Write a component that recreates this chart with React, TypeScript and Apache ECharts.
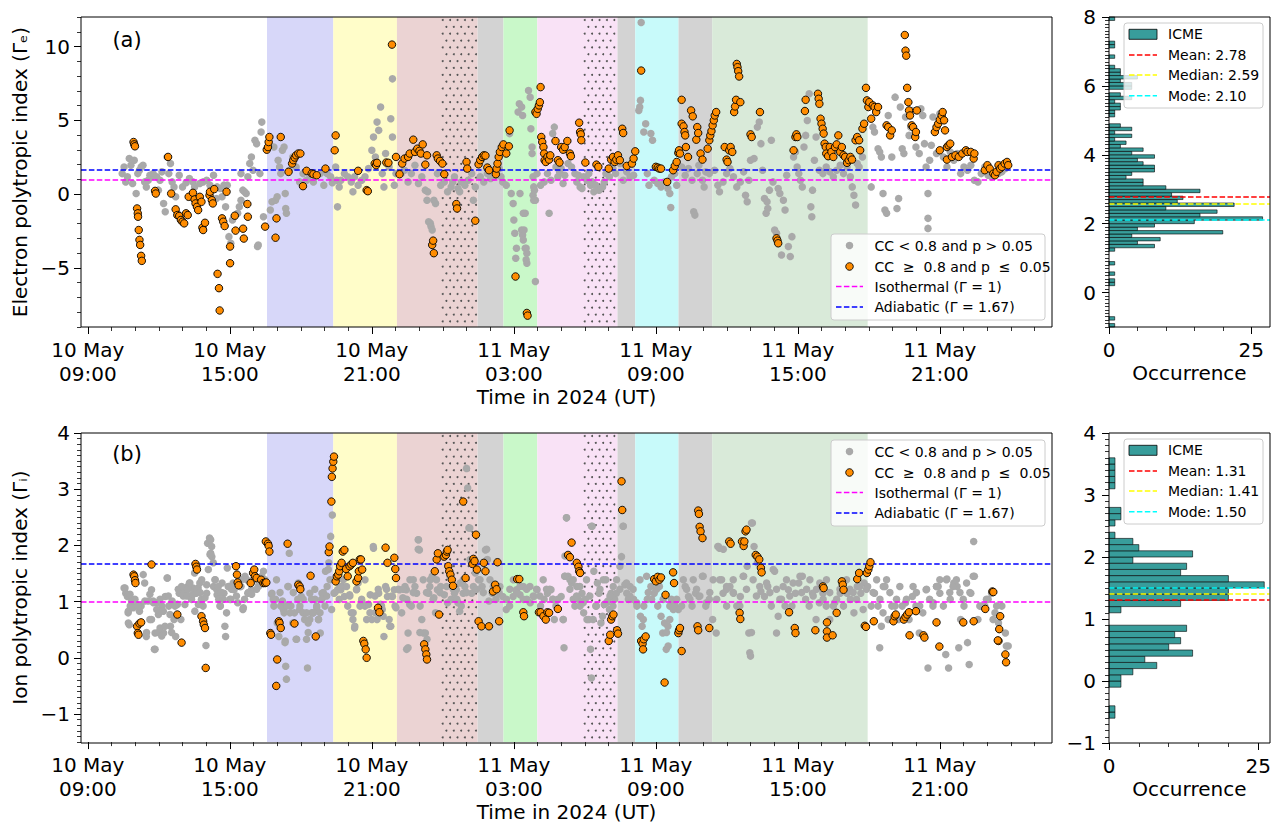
import React, { useEffect, useRef } from "react";
import * as echarts from "echarts";

// ---------------- DATA ----------------
// Time is given in hours after 2024-05-10 09:00 UT
const X_MIN_H = -0.29;
const X_MAX_H = 40.74;
const majorTickHours = [0, 6, 12, 18, 24, 30, 36];

// Shaded intervals (hours)
const regionStarts = [7.57, 10.37, 13.06, 16.47, 17.56, 18.99, 22.38, 23.13, 24.96, 26.38];
const regionEnds = [10.37, 13.06, 16.47, 17.56, 18.99, 22.38, 23.13, 24.96, 26.38, 32.95];
// Dotted-hatch intervals (hours)
const hatchStarts = [14.96, 20.96];
const hatchEnds = [16.47, 22.38];

const isothermal = 1;
const adiabatic = 1.67;

// Panel (a): electron polytropic index
const aGray: number[][] = [
[1.45,1.39],[1.53,1.84],[1.6,0.83],[1.67,1.17],[1.75,2.41],[1.82,1.96],[1.89,0.72],[1.96,2.3],[2.04,0.04],[2.11,1.39],[2.18,1.62],[2.25,1.84],[2.33,1.96],[2.4,0.83],[2.47,0.49],[2.55,0.94],[2.62,1.28],[2.69,1.17],[2.76,1.39],[2.91,1.17],[2.98,0.27],[3.05,0.94],[3.13,1.51],[3.2,-0.63],[3.27,-1.19],[3.35,2.52],[3.42,1.39],[3.49,2.07],[3.56,0.83],[3.64,0.49],[3.71,-0.18],[3.78,-1.3],[3.86,1.28],[4.0,0.49],[4.15,0.77],[4.29,1.06],[4.36,-0.18],[4.44,0.83],[4.51,0.49],[4.58,-0.41],[4.73,0.72],[4.87,0.83],[5.02,0.94],[5.16,0.61],[5.31,1.28],[5.43,-0.29],[5.46,0.49],[5.6,0.38],[5.67,-0.18],[5.75,0.61],[5.82,-0.86],[5.89,0.61],[5.96,-2.88],[6.04,-3.33],[6.11,-1.75],[6.18,-1.53],[6.33,-1.3],[6.4,-0.86],[6.47,1.39],[6.47,-0.41],[6.55,0.27],[6.62,0.16],[6.69,0.04],[6.76,1.17],[6.84,2.07],[6.91,2.52],[6.98,1.62],[7.06,3.65],[7.13,3.42],[7.17,-3.55],[7.2,-3.44],[7.27,1.39],[7.32,4.21],[7.35,4.88],[7.42,-1.53],
[7.71,-1.08],[7.78,-0.52],[7.86,3.19],[7.93,-0.41],[8.0,-0.18],[8.04,2.3],[8.1,1.84],[8.15,1.39],[8.22,2.97],[8.29,3.19],[8.34,0.04],[8.36,-0.97],[8.39,-1.3],[8.51,1.62],[8.66,2.52],[8.8,1.84],[8.95,0.83],[9.09,1.39],[9.24,0.94],[9.38,1.28],[9.53,0.83],[9.67,1.28],[9.82,1.39],[9.97,0.61],[10.11,1.39],[10.26,1.17],[10.33,0.77],[10.47,1.84],[10.52,0.94],[10.55,-0.86],[10.62,0.49],[10.69,0.94],[10.84,1.39],[10.98,1.17],[11.13,0.83],[11.2,0.16],[11.27,1.17],[11.42,0.61],[11.57,0.94],[11.71,1.17],[11.86,1.73],[12.0,2.97],[12.07,3.87],[12.15,2.52],[12.22,4.88],[12.29,4.32],[12.37,5.9],[12.44,1.39],[12.51,0.49],[12.58,2.75],[12.73,1.84],[12.8,5.11],[12.87,7.81],[12.87,3.87],[12.95,0.61],[13.02,1.39],
[13.24,1.39],[13.38,1.62],[13.53,0.83],[13.67,1.39],[13.82,1.96],[13.97,0.72],[14.11,1.17],[14.26,0.27],[14.33,-0.41],[14.36,0.16],[14.4,-1.87],[14.47,-1.98],[14.5,-2.2],[14.55,-2.43],[14.62,-0.41],[14.69,-0.63],[14.77,1.39],[14.91,0.61],[15.06,0.83],[15.2,0.16],[15.35,0.49],[15.42,0.83],[15.49,1.17],[15.64,0.38],[15.71,0.16],[15.78,0.83],[15.93,0.61],[16.07,0.94],[16.22,1.39],[16.29,-0.41],[16.37,0.49],[16.58,1.17],[16.73,0.83],[16.88,1.39],[17.02,1.06],[17.17,1.17],[17.24,1.51],[17.38,1.73],[17.46,1.17],[17.53,0.83],[17.68,0.61],[17.82,4.1],[17.89,0.04],[17.97,-0.63],[18.0,-1.75],[18.04,-2.65],[18.08,-4.34],[18.11,-3.67],[18.18,5.56],[18.23,6.12],[18.26,0.04],[18.33,-2.43],[18.37,-2.77],[18.4,-3.1],[18.48,-1.3],[18.52,-3.67],[18.55,-4.68],[18.62,7.02],[18.69,6.57],[18.72,4.43],[18.77,3.19],[18.81,1.17],[18.84,0.49],[18.91,-0.41],[18.98,1.39],
[18.33,5.9],[18.37,5.33],[18.4,-1.3],[18.43,-2.43],[18.48,-3.67],[18.52,-4.45],[18.55,-4.0],[18.77,2.75],[18.81,-0.07],[18.84,-0.41],[18.87,0.27],[18.91,-5.92],[19.13,0.61],[19.28,0.83],[19.42,1.39],[19.49,-1.3],[19.57,0.94],[19.64,4.1],[19.71,4.54],[19.78,1.84],[19.86,1.17],[19.93,1.51],[20.0,1.73],[20.08,0.72],[20.15,1.28],[20.29,2.07],[20.44,1.84],[20.58,1.39],[20.66,0.83],[20.73,1.28],[20.8,0.49],[20.88,0.38],[20.95,1.17],[21.09,0.94],[21.17,1.39],[21.24,0.61],[21.31,0.83],[21.38,0.16],[21.46,0.61],[21.6,0.27],[21.75,0.49],[21.82,0.83],[21.89,1.39],[22.04,1.17],[22.19,1.73],[22.3,1.39],[22.48,2.07],[22.62,0.94],[22.77,1.51],[22.91,1.17],[23.06,1.28],[23.28,5.67],[23.32,5.9],[23.35,6.35],[23.38,11.63],[23.49,4.21],[23.57,4.77],[23.64,1.39],[23.71,0.61],[23.79,4.1],[23.86,3.65],[23.93,0.94],[24.08,0.72],[24.22,0.49],[24.37,0.83],[24.51,0.38],[24.59,0.04],[24.63,-0.9],[24.66,1.17],[24.8,1.39],[24.88,0.61],
[25.09,1.84],[25.24,1.28],[25.38,1.73],[25.53,0.94],[25.6,-1.19],[25.65,-1.42],[25.75,1.39],[25.82,1.96],[25.97,0.94],[26.04,0.49],[26.11,1.51],[26.26,1.39],[26.48,1.62],[26.62,0.61],[26.69,0.16],[26.84,0.83],[26.99,1.39],[27.13,1.73],[27.28,1.17],[27.42,0.49],[27.57,0.83],[27.71,1.51],[27.79,-0.07],[27.86,-0.52],[27.93,0.94],[28.0,2.3],[28.15,2.41],[28.29,4.54],[28.37,4.88],[28.44,3.42],[28.51,1.62],[28.59,-0.29],[28.66,-1.3],[28.7,-0.52],[28.73,-0.97],[28.8,0.27],[28.88,3.65],[28.95,0.83],[29.02,-2.43],[29.1,-2.65],[29.17,0.38],[29.24,0.04],[29.31,-4.12],[29.39,-0.41],[29.46,-1.08],[29.53,1.28],[29.6,-3.55],[29.68,-4.23],[29.75,-2.88],[29.82,2.52],[29.9,2.86],[29.97,1.84],[30.04,1.39],[30.11,0.94],[30.19,0.49],[30.26,3.19],[30.33,3.98],[30.4,4.99],[30.48,6.8],[30.55,-0.86],[30.59,-1.53],[30.62,0.27],[30.7,2.3],[30.77,3.87],[30.91,1.62],[31.06,1.39],[31.2,1.84],[31.35,1.51],[31.5,1.17],[31.64,1.62],[31.79,1.96],[31.93,1.39],[32.08,1.84],[32.22,1.17],[32.3,0.49],[32.37,-0.07],[32.44,-0.74],[32.51,2.07],[32.59,1.84],[32.66,2.97],[32.73,2.52],
[33.1,0.49],[33.17,4.54],[33.24,4.21],[33.39,3.08],[33.46,2.86],[33.53,2.52],[33.6,0.04],[33.68,-1.08],[33.75,-1.3],[33.82,5.33],[33.97,2.52],[34.11,6.57],[34.19,-0.97],[34.26,-0.29],[34.33,5.9],[34.41,3.08],[34.48,2.75],[34.55,5.22],[34.7,3.98],[34.77,4.54],[34.84,5.67],[34.99,3.19],[35.13,2.75],[35.2,5.78],[35.28,5.33],[35.35,3.42],[35.42,1.84],[35.5,0.04],[35.5,-1.64],[35.5,-2.32],[35.57,2.3],[35.64,3.31],[35.71,5.22],[35.86,2.75],[36.0,5.44],[36.15,2.52],[36.3,1.84],[36.44,2.86],[36.59,2.3],[36.73,2.75],[36.88,1.39],[37.02,1.84],[37.17,1.62],[37.31,1.96],[37.46,0.94],[37.61,0.83],[37.75,1.39],[37.9,1.84],[38.04,1.28],[38.19,1.17],[38.33,1.39],[38.48,1.39],[38.62,1.51],[38.77,1.73]
];

const aOrange: number[][] = [
[1.93,3.53],[1.96,3.37],[1.99,3.24],[2.08,-0.97],[2.11,-1.3],[2.12,-1.53],[2.15,-2.43],[2.18,-3.1],[2.21,-3.44],[2.25,-4.18],[2.28,-4.52],[2.84,0.22],[2.87,0.04],[3.39,2.52],[3.52,0.04],[3.71,-1.03],[3.78,-1.42],[3.86,-1.48],[3.93,-1.75],[4.0,-1.87],[4.07,-1.98],[4.15,-1.3],[4.22,-1.42],[4.26,-0.18],[4.44,0.09],[4.51,-0.36],[4.55,-0.63],[4.61,-0.86],[4.66,-1.08],[4.73,-0.18],[4.8,-0.52],[4.84,-2.27],[4.87,-2.43],[4.95,-1.94],[5.14,-0.07],[5.16,0.16],[5.24,-0.41],[5.28,-0.63],[5.34,0.34],[5.48,-5.4],[5.54,-6.37],[5.57,-7.88],[5.67,-1.64],[5.72,-1.87],[5.78,-2.16],[5.86,0.16],[6.01,-3.55],[6.01,-4.68],[6.21,-1.46],[6.24,-2.47],[6.56,-2.34],[6.59,-3.01],[6.74,-0.67],[6.76,-1.53],[7.49,-2.2],[7.56,3.01],[7.61,3.19],[7.64,3.53],[7.67,3.87],[7.93,-2.95],[7.97,-1.64],[8.15,3.87],[8.48,1.51],[8.63,2.07],[8.68,2.3],[8.74,2.48],[8.8,2.63],[8.89,2.75],[8.98,2.75],[9.09,0.54],[9.24,1.58],[9.46,1.4],[9.53,1.35],[9.67,1.28],[10.04,1.73],[10.43,2.97],[10.47,3.98],[11.42,1.58],[11.78,0.27],[11.83,0.2],[12.12,2.07],[12.18,1.96],[12.22,2.12],
[12.61,2.14],[12.7,2.12],[12.85,10.13],[13.02,2.52],[13.17,1.35],[13.28,2.07],[13.38,2.41],[13.53,2.52],[13.6,2.75],[13.75,3.69],[13.82,2.86],[13.92,3.08],[14.01,2.93],[14.07,2.75],[14.15,3.37],[14.26,2.0],[14.33,2.63],[14.55,-3.44],[14.59,-3.15],[14.62,-4.0],[14.74,2.63],[14.79,2.41],[14.88,2.25],[14.98,2.07],[15.06,1.35],[15.57,-0.67],[15.6,-0.97],[16.0,2.18],[16.03,1.73],[16.37,-1.8],[16.51,2.02],[16.58,2.3],[16.66,2.52],[16.73,2.63],[16.8,2.61],[16.88,1.8],[16.95,1.62],[17.24,1.35],[17.27,1.73],[17.31,2.07],[17.36,2.52],[17.41,2.86],[17.49,3.19],[17.56,3.37],[17.68,2.75],[17.79,3.24],[17.82,4.32],[18.07,-5.58],
[18.55,-8.05],[18.58,-8.23],[18.91,5.56],[18.96,5.44],[19.01,5.78],[19.06,6.01],[19.1,6.23],[19.13,7.25],[19.16,3.87],[19.2,3.53],[19.25,3.19],[19.28,2.75],[19.3,2.3],[19.35,2.18],[19.42,2.52],[19.49,2.34],[19.54,2.63],[19.76,3.6],[19.86,2.3],[19.93,2.14],[20.0,3.19],[20.08,3.01],[20.15,3.19],[20.26,3.6],[20.37,2.75],[20.41,2.57],[20.76,4.84],[20.8,4.21],[20.83,4.05],[20.85,3.65],[21.02,2.14],[21.49,2.0],[21.57,1.85],[22.01,1.73],[22.11,2.34],[22.19,2.52],[22.26,2.18],[22.33,2.34],[22.4,2.63],[22.48,2.3],[22.58,4.43],[22.62,4.14],[22.77,1.91],[22.99,2.07],[23.06,2.41],[23.13,2.9],[23.38,8.37],[24.0,1.85],[24.08,1.8],[24.15,1.73],[24.22,1.73],[24.48,0.83],[24.73,1.62],[24.8,1.91],[24.88,2.18],[24.95,2.79],[24.98,2.97],[25.02,2.75],[25.09,6.39],[25.09,4.77],[25.17,4.59],[25.21,4.21],[25.24,3.98],[25.27,3.19],[25.36,2.52],[25.49,5.67],[25.56,5.27],[25.71,3.69],[25.75,4.54],[25.79,4.14],[25.89,2.75],[25.97,2.34],[26.19,3.08],[26.26,3.65],[26.3,3.98],[26.35,4.27],[26.4,4.66],[26.45,5.0],[26.49,5.33],[26.55,5.56],
[26.91,3.19],[26.99,2.34],[27.03,2.18],[27.1,2.97],[27.16,3.19],[27.23,2.86],[27.31,5.56],[27.35,5.94],[27.39,6.39],[27.42,8.82],[27.45,8.6],[27.48,8.33],[27.52,7.97],[27.57,6.23],[28.0,4.05],[28.05,3.87],[28.4,5.56],[29.1,-2.99],[29.14,-3.15],[29.17,-3.33],[29.82,2.97],[29.9,3.87],[29.94,4.05],[29.98,3.87],[30.3,5.63],[30.33,6.39],[30.85,6.8],[30.88,6.46],[30.91,6.12],[30.96,5.11],[31.0,4.77],[31.05,4.43],[31.09,4.1],[31.13,3.42],[31.18,3.19],[31.2,2.75],[31.28,2.57],[31.35,3.19],[31.42,2.86],[31.5,2.52],[31.57,3.19],[31.64,3.37],[31.71,3.98],[31.79,2.86],[31.86,3.19],[31.93,2.63],[32.0,2.52],[32.08,2.12],[32.15,2.3],[32.22,2.52],[32.29,2.34],[32.44,3.65],[32.51,3.87],[32.59,3.65],[32.63,2.97],[32.73,4.43],[32.8,4.77],[32.88,7.2],[32.92,6.35],[32.98,5.9],[33.02,6.23],[33.1,5.11],[33.17,6.01],[33.24,5.9],[33.31,5.56],[33.39,5.9],
[33.75,4.66],[33.82,4.54],[33.9,3.98],[33.97,4.32],[34.52,10.78],[34.55,9.72],[34.58,9.38],[34.62,7.2],[34.67,6.23],[34.7,5.67],[34.74,5.33],[34.81,4.66],[34.87,4.54],[34.96,3.87],[34.99,4.21],[35.03,5.67],[35.79,4.21],[35.86,4.54],[35.93,4.77],[36.0,5.04],[36.08,5.33],[36.12,5.56],[36.18,5.0],[36.22,4.32],[36.0,2.97],[36.3,3.19],[36.37,3.31],[36.44,3.42],[36.3,2.34],[36.51,2.52],[36.66,2.63],[36.8,2.52],[36.95,2.75],[37.1,2.97],[37.17,2.86],[37.31,2.86],[37.43,2.41],[37.46,2.75],[37.9,1.62],[38.01,1.96],[38.11,1.73],[38.26,1.39],[38.33,1.28],[38.4,1.51],[38.48,1.96],[38.55,1.73],[38.62,1.85],[38.74,2.07],[38.84,2.18],[38.89,1.96]
];

// Panel (b): ion polytropic index
const bGray: number[][] = [
[1.53,1.24],[1.6,1.15],[1.67,1.09],[1.7,0.8],[1.75,0.59],[1.79,0.92],[1.85,1.01],[1.89,1.04],[2.04,0.95],[2.18,0.83],[2.25,0.92],[2.4,1.33],[2.47,0.38],[2.55,1.01],[2.62,0.68],[2.69,1.21],[2.76,1.01],[2.81,0.15],[2.84,0.44],[2.91,0.98],[2.98,0.77],[3.05,0.53],[3.13,0.92],[3.2,0.44],[3.27,1.09],[3.35,1.42],[3.42,0.92],[3.49,0.56],[3.56,1.01],[3.64,0.68],[3.71,0.38],[3.78,0.95],[3.86,1.15],[3.93,0.68],[4.0,1.24],[4.07,1.12],[4.15,1.15],[4.22,1.27],[4.29,1.33],[4.36,1.09],[4.44,1.24],[4.51,1.51],[4.58,1.15],[4.66,1.24],[4.73,1.33],[4.8,1.04],[4.87,0.92],[4.99,0.22],[5.02,1.15],[5.06,2.04],[5.14,2.13],[5.19,1.86],[5.24,1.8],[5.31,1.27],[5.38,1.39],[5.46,1.12],[5.53,1.04],[5.6,0.92],[5.67,1.33],[5.75,1.15],[5.82,0.38],[5.89,1.6],[5.96,1.27],[6.04,1.04],[6.18,1.21],[6.33,0.98],[6.47,1.27],[6.55,0.86],[6.62,1.04],[6.76,1.15],[6.91,1.21],[7.06,1.39],[7.2,1.27],[7.27,1.3],[7.35,1.45],[7.42,1.54],
[7.78,1.15],[7.86,0.92],[7.93,1.04],[8.0,0.62],[8.07,0.38],[8.15,0.92],[8.22,1.01],[8.29,0.8],[8.34,0.3],[8.36,-0.15],[8.39,-0.38],[8.45,1.27],[8.51,1.86],[8.58,0.92],[8.66,0.62],[8.73,0.8],[8.8,0.33],[8.87,1.04],[8.95,0.86],[9.02,1.09],[9.09,0.8],[9.16,0.68],[9.24,0.33],[9.28,-0.18],[9.31,0.62],[9.38,1.15],[9.46,0.8],[9.53,0.8],[9.6,1.04],[9.67,0.89],[9.75,0.68],[9.82,0.44],[9.89,1.15],[9.97,1.09],[10.04,1.54],[10.11,1.27],[10.18,1.69],[10.26,2.16],[10.33,2.54],[10.4,1.15],[10.55,1.21],[10.62,1.04],[10.69,1.21],[10.77,1.27],[10.84,1.09],[10.98,0.92],[11.06,1.12],[11.13,0.8],[11.2,0.68],[11.27,0.53],[11.35,1.21],[11.42,1.33],[11.57,1.01],[11.71,0.92],[11.86,0.95],[11.93,1.12],[12.0,0.68],[12.07,1.95],[12.15,0.8],[12.22,0.68],[12.29,1.15],[12.37,0.95],[12.44,0.86],[12.51,0.38],[12.58,1.27],[12.66,1.09],[12.73,0.68],[12.8,0.56],[12.87,1.09],[12.95,1.21],[13.02,0.89],
[13.17,1.21],[13.31,1.07],[13.46,1.21],[13.53,0.18],[13.53,0.44],[13.6,0.95],[13.67,0.92],[13.75,1.39],[13.82,1.27],[13.89,1.15],[13.97,2.1],[14.01,1.92],[14.04,0.92],[14.11,0.68],[14.18,0.44],[14.26,0.44],[14.33,0.33],[14.4,1.15],[14.47,1.39],[14.55,1.45],[14.62,1.07],[14.69,0.8],[14.77,1.21],[14.91,1.27],[15.06,1.12],[15.2,0.98],[15.35,1.04],[15.49,1.15],[15.57,1.21],[15.64,0.98],[15.71,0.83],[15.78,0.92],[15.86,1.15],[15.93,1.27],[16.0,3.37],[16.05,3.02],[16.1,2.31],[16.15,1.75],[16.22,1.15],[16.37,1.51],[16.51,1.39],[16.66,1.27],[16.8,1.92],[16.88,1.75],[16.95,1.01],[17.09,1.15],[17.24,1.04],[17.38,1.15],[17.53,1.09],[17.68,0.86],[17.82,0.92],[17.97,1.09],[18.11,1.21],[18.26,1.12],[18.4,1.27],[18.55,1.04],[18.69,0.98],[18.84,1.09],[18.98,1.21],
[19.13,0.92],[19.28,1.04],[19.42,1.15],[19.49,1.21],[19.57,1.21],[19.64,1.04],[19.71,0.68],[19.78,0.92],[19.86,1.04],[20.0,1.09],[20.08,0.68],[20.12,0.18],[20.15,1.45],[20.22,2.49],[20.29,1.45],[20.37,1.39],[20.44,1.33],[20.51,1.04],[20.58,0.92],[20.66,1.27],[20.73,1.04],[20.8,0.92],[20.88,1.15],[20.95,0.8],[21.02,1.04],[21.09,0.68],[21.17,0.68],[21.24,0.15],[21.28,-0.36],[21.31,2.34],[21.38,1.54],[21.46,0.92],[21.53,1.33],[21.6,1.15],[21.68,0.62],[21.75,0.74],[21.82,0.95],[21.89,1.39],[21.97,1.01],[22.04,0.86],[22.11,1.15],[22.19,0.92],[22.26,1.04],[22.33,1.15],[22.48,1.63],[22.55,1.8],[22.62,2.34],[22.69,1.3],[22.77,1.15],[22.84,1.04],[22.91,1.27],[23.06,1.04],[23.2,0.92],[23.35,0.74],[23.42,0.56],[23.49,0.92],[23.64,1.04],[23.79,1.27],[23.93,1.15],[24.08,0.92],[24.15,1.27],[24.22,0.74],[24.29,0.44],[24.37,0.62],[24.44,0.15],[24.51,0.56],[24.59,0.92],[24.66,1.04],[24.8,0.95],[24.95,0.86],
[25.09,0.92],[25.24,1.27],[25.38,1.09],[25.53,0.92],[25.68,1.15],[25.82,1.09],[25.97,1.45],[26.11,0.92],[26.26,1.04],[26.4,0.68],[26.55,0.44],[26.62,1.98],[26.69,1.95],[26.84,1.15],[26.99,0.92],[27.13,1.27],[27.28,1.15],[27.42,0.92],[27.57,1.09],[27.71,1.45],[27.86,1.63],[27.93,0.44],[27.97,0.09],[28.0,0.03],[28.08,2.4],[28.15,1.98],[28.29,1.69],[28.44,1.18],[28.59,1.09],[28.73,1.27],[28.88,0.92],[29.02,1.54],[29.1,0.44],[29.17,0.74],[29.31,1.04],[29.46,0.92],[29.6,1.21],[29.75,0.92],[29.9,1.15],[30.04,1.33],[30.19,1.45],[30.33,1.04],[30.48,0.92],[30.62,1.15],[30.77,0.68],[30.91,0.98],[31.06,1.15],[31.2,0.92],[31.35,0.68],[31.5,0.92],[31.64,1.04],[31.79,1.15],[31.93,0.92],[32.08,1.15],[32.22,1.04],[32.37,0.8],[32.51,1.27],[32.66,1.15],[32.8,1.33],[32.95,1.27],
[33.1,0.92],[33.24,1.15],[33.39,0.92],[33.46,0.18],[33.53,0.56],[33.6,0.8],[33.68,1.27],[33.82,0.68],[33.97,0.92],[34.11,0.92],[34.26,0.68],[34.41,0.92],[34.55,0.98],[34.7,0.68],[34.84,1.09],[34.99,0.92],[35.13,0.44],[35.28,0.8],[35.42,1.21],[35.5,-0.18],[35.57,1.04],[35.71,0.92],[35.86,1.27],[35.93,1.27],[36.0,1.15],[36.15,0.92],[36.25,0.06],[36.3,1.4],[36.37,-0.18],[36.44,1.04],[36.59,1.33],[36.73,1.27],[36.8,0.18],[36.88,0.68],[37.02,0.92],[37.17,0.27],[37.24,-0.12],[37.31,1.15],[37.43,2.07],[37.46,1.45],[37.61,0.68],[37.75,0.92],[37.9,0.92],[38.04,1.04],[38.19,1.15],[38.33,0.8],[38.48,0.62],[38.62,0.92],[38.77,0.44],[38.89,0.21]
];

// Panel (b): more of the dense low-correlation cloud
const bGrayDense: number[][] = [
[1.57,1.24],[1.78,1.13],[1.71,0.83],[1.71,0.62],[1.92,0.89],[1.99,1.04],[2.13,0.92],[2.34,1.48],[2.41,1.01],[2.48,0.45],[2.62,1.13],[2.69,0.68],[2.77,0.98],[2.84,0.15],[2.91,0.86],[2.98,0.45],[3.05,1.04],[3.12,0.39],[3.19,0.83],[3.26,0.56],[3.36,1.42],[3.4,1.1],[3.47,0.77],[3.54,0.45],[3.68,0.92],[3.82,1.22],[3.96,1.27],[4.03,1.1],[4.1,0.95],[4.17,1.1],[4.24,1.22],[4.31,1.33],[4.38,1.04],[4.45,1.13],[4.52,0.83],[4.6,1.22],[4.67,0.95],[4.74,1.16],[4.81,1.39],[4.95,1.07],[5.02,1.3],[5.09,1.57],[5.16,1.84],[5.19,2.1],[5.23,1.98],[5.3,1.69],[5.37,1.39],[5.44,1.22],[5.51,1.27],[5.58,0.92],[5.65,1.16],[5.72,1.04],[5.79,0.56],[5.86,0.8],[5.93,1.27],[6.0,1.04],[6.07,1.22],[6.14,1.33],[6.28,1.1],[6.43,1.27],[6.5,1.39],[6.57,0.89],[6.64,1.45],[6.71,1.39],[6.78,1.16],[6.92,1.13],[6.99,1.39],[7.06,1.45],[7.13,1.22],[7.27,1.39],[7.48,1.39],
[7.76,1.13],[7.83,1.04],[7.97,1.39],[8.12,1.16],[8.26,0.86],[8.33,0.27],[8.4,0.92],[8.47,1.27],[8.54,0.8],[8.68,1.16],[8.82,0.33],[8.89,1.33],[8.96,0.92],[9.1,1.04],[9.24,0.8],[9.31,0.45],[9.38,0.68],[9.45,1.04],[9.52,0.8],[9.59,1.22],[9.67,0.92],[9.74,0.68],[9.81,0.8],[9.88,1.04],[9.95,1.16],[10.02,0.92],[10.09,1.1],[10.16,1.57],[10.23,1.39],[10.3,0.86],[10.44,1.16],[10.51,1.39],[10.65,1.27],[10.79,1.39],[10.93,1.27],[11.07,1.1],[11.21,0.8],[11.28,0.56],[11.36,1.22],[11.5,0.92],[11.57,1.04],[11.71,1.39],[11.78,0.68],[11.92,0.8],[12.06,1.98],[12.13,1.1],[12.27,1.22],[12.41,0.92],[12.48,0.74],[12.62,1.22],[12.76,0.56],[12.84,1.1],[12.98,0.92],[13.12,1.22],[13.26,0.8],[13.4,1.27],[13.47,0.15],
[13.33,1.22],[13.47,1.04],[13.61,1.39],[13.75,1.16],[13.96,2.1],[13.96,1.93],[14.03,0.45],[14.17,1.39],[14.31,1.16],[14.45,1.27],[14.59,1.04],[14.73,1.39],[14.88,1.16],[15.16,1.27],[15.3,1.45],[15.44,1.22],[15.59,1.04],[15.73,1.33],[15.86,1.39],[16.0,1.16],[16.14,2.31],[16.21,1.69],[16.29,1.27],[16.43,1.22],[16.57,1.39],[16.71,1.16],[16.85,1.93],[16.99,1.39],[17.13,1.27],[17.41,1.27],[17.69,1.04],[17.83,1.22],[17.98,1.39],[18.12,1.16],[18.26,1.27],[18.4,1.04],[18.54,1.22],[18.68,1.27],[18.82,1.1],[18.96,1.22],[19.1,1.1],[19.24,1.39],[19.38,1.22],[19.52,1.22],[19.66,1.04],[20.09,0.68],[20.16,1.81],[20.16,1.45],[20.23,2.49],[20.37,1.22],[20.51,1.39],[20.65,1.1],[20.79,1.27],[20.93,0.98],[21.07,1.39],[21.21,1.1],[21.28,2.34],[21.35,0.68],[21.49,0.92],[21.64,1.22],[21.78,1.39],[21.92,0.98],[22.06,1.1],[22.2,1.27],[22.34,1.39],[22.48,1.22],[22.62,2.34],[22.76,1.33],[22.9,1.1],[23.04,1.22],[23.19,0.98],[23.33,1.39],[23.47,0.68],[23.61,1.45],[23.68,1.16],[23.82,1.04],[24.03,1.22],[24.17,1.39],[24.31,1.04],[24.45,0.45],[24.52,0.21],[24.59,0.68],[24.74,0.86],[24.88,1.04],[25.16,1.39],[25.3,1.22],[25.44,1.04],[25.58,1.39],[25.72,1.22],[25.86,1.1],[26.0,1.45],[26.14,0.98],[26.28,1.16],[26.42,1.39],[26.57,1.04],[26.64,1.98],[26.78,1.39],[26.99,1.27],
[26.7,1.39],[26.85,1.93],[26.99,1.22],[27.27,1.39],[27.27,1.16],[27.55,0.92],[27.69,1.45],[27.83,1.22],[28.04,2.4],[28.04,0.45],[28.11,1.39],[28.25,1.1],[28.39,1.27],[28.68,1.33],[28.82,1.16],[28.96,1.57],[29.1,1.22],[29.24,1.04],[29.38,1.27],[29.52,1.39],[29.66,1.1],[29.8,1.33],[30.09,1.45],[30.16,1.16],[30.37,1.22],[30.51,1.39],[30.65,1.1],[30.79,1.22],[30.93,1.33],[31.07,1.04],[31.21,1.39],[31.35,1.16],[31.56,0.98],[31.78,1.22],[32.06,1.39],[32.2,1.22],[32.34,1.16],[32.48,1.04],[32.62,1.27],[32.76,0.86],[32.9,1.22],[33.18,1.16],[33.33,1.39],[33.47,1.04],[33.61,1.27],[33.75,1.39],[33.89,1.16],[34.17,1.04],[34.31,1.27],[34.59,1.04],[34.87,1.27],[35.01,1.16],[35.15,0.92],[35.44,1.22],[35.72,0.98],[35.86,1.27],[36.0,1.39],[36.28,1.39],[36.42,1.16],[36.56,1.27],[36.7,1.39],[36.85,1.16],[36.99,1.04],[37.13,1.33],[37.27,1.16],[37.41,1.45],[37.69,0.92],[37.97,1.04],[38.25,0.68],[38.4,0.92],[38.81,0.21]
];

const bOrange: number[][] = [
[1.93,1.48],[1.96,1.45],[1.99,1.38],[2.01,1.33],[2.08,0.56],[2.11,0.44],[2.14,0.41],[2.18,0.61],[2.25,0.63],[2.69,1.66],[3.78,0.77],[3.96,0.27],[4.55,1.67],[4.58,1.62],[4.61,1.57],[4.8,0.74],[4.87,0.65],[4.9,0.59],[4.95,0.53],[4.98,-0.18],[6.26,1.63],[6.3,1.48],[6.33,1.34],[6.37,1.29],[6.88,1.33],[6.98,1.51],[7.03,1.57],[7.06,1.45],[7.13,1.42],[7.32,1.39],[7.42,1.33],[7.49,1.33],[7.54,1.34],[7.52,2.07],[7.61,2.03],[7.64,1.99],[7.67,1.89],[7.71,0.44],[7.74,0.41],[7.96,-0.5],[8.0,-0.03],[8.07,0.65],[8.1,0.62],[8.15,0.53],[8.44,2.03],[8.73,0.61],[8.89,1.3],[8.95,1.27],[8.98,1.22],[9.41,1.46],[9.63,0.38],
[10.18,1.88],[10.21,1.98],[10.29,2.78],[10.31,3.22],[10.34,3.37],[10.37,3.49],[10.4,3.58],[10.47,1.36],[10.52,1.45],[10.58,1.48],[10.62,1.54],[10.66,1.63],[10.72,1.69],[10.77,1.89],[10.84,1.92],[10.91,1.58],[10.98,1.45],[11.06,1.63],[11.13,1.66],[11.2,1.69],[11.35,1.36],[11.42,1.42],[11.45,1.54],[11.49,1.75],[11.54,1.75],[11.59,1.57],[11.64,0.3],[11.68,0.25],[11.74,0.15],[11.78,0.0],[12.26,0.89],[12.32,0.81],[12.58,1.96],[12.66,1.69],[12.95,1.78],[12.99,1.58],[13.02,1.42],[14.21,0.24],[14.26,0.15],[14.3,0.06],[14.33,-0.03],[14.66,1.54],[14.74,1.75],[14.79,1.86],[14.84,0.77],[15.06,1.8],[15.13,1.83],[15.17,1.89],[15.2,1.92],[15.23,1.63],[15.27,1.54],[15.32,1.48],[15.38,1.39],[15.43,1.28],[15.86,2.78],[15.96,1.42],[16.25,1.67],[16.29,1.76],[16.34,1.72],[16.4,2.19],[16.44,1.57],[16.51,0.65],[16.63,0.56],[16.73,1.69],[16.8,1.54],[16.95,0.56],[17.12,1.18],[17.21,1.3],[17.27,1.22],[17.31,1.7],[17.38,0.65],[18.14,1.4],[18.23,1.4],[18.4,0.81],[18.43,0.74],[19.06,0.81],
[19.13,0.81],[19.25,0.74],[19.35,0.68],[19.42,0.81],[19.49,0.8],[19.86,0.87],[20.29,1.83],[20.37,1.79],[20.44,2.05],[20.66,1.69],[20.73,1.62],[20.76,1.54],[20.8,1.51],[22.01,0.3],[22.07,0.41],[22.11,0.68],[22.16,0.74],[22.21,0.77],[22.36,0.49],[22.4,0.43],[22.55,3.14],[22.58,2.63],[23.38,0.3],[23.44,0.25],[23.46,0.15],[23.49,0.33],[23.57,0.38],[23.93,1.4],[24.0,1.36],[24.08,1.44],[24.15,1.39],[24.22,1.43],[24.37,-0.44],[24.41,1.12],[24.73,1.52],[24.77,1.33],[24.95,0.44],[24.98,0.49],[25.02,0.53],[25.09,0.12],[25.79,2.62],[25.82,2.56],[25.85,2.33],[25.89,2.25],[25.97,2.13],[25.76,0.56],[25.79,0.49],[26.26,0.53],[27.1,2.07],[27.16,2.03],[27.54,0.8],[27.57,0.69],[27.64,2.07],[27.71,1.99],[27.74,2.07],[27.79,2.25],[27.83,2.28],[28.22,1.83],[28.29,1.8],[28.37,1.75],[28.44,1.6],[28.47,1.52],
[29.63,0.81],[29.87,0.53],[29.9,0.44],[30.74,0.49],[31.06,1.27],[31.09,1.24],[31.23,0.63],[31.23,0.47],[31.23,0.36],[31.47,0.4],[31.64,0.8],[31.86,1.36],[31.9,1.3],[31.93,1.21],[32.51,1.4],[32.59,1.51],[32.83,0.57],[32.88,0.55],[32.92,1.51],[32.98,1.57],[33.02,1.63],[33.07,1.7],[33.21,0.65],[34.04,0.65],[34.09,0.74],[34.14,0.77],[34.48,0.68],[34.55,0.73],[34.62,0.77],[34.7,0.81],[34.72,0.4],[34.99,0.83],[35.31,0.4],[35.35,0.36],[35.86,0.63],[35.98,0.2],[36.99,0.63],[37.43,0.65],[37.92,0.87],[38.22,1.18],[38.26,1.17],[38.55,0.74],[38.51,0.51],[38.48,0.3],[38.45,0.31],[38.77,0.06],[38.8,-0.08]
];

// Histograms (ICME interval), bins of 0.1 starting at -1.0
const histBinStart = -1.0;
const histBinWidth = 0.1;
const histACounts = [
1,0,1,0,0,0,0,0,0,0,0,0,1,1,0,1,0,0,1,0,
0,0,1,8,5,9,4,20,5,8,15,27,16,19,10,22,12,13,11,16,
10,6,6,3,4,8,8,6,5,8,4,6,2,3,1,4,1,4,2,0,
0,1,1,2,2,1,4,2,0,4,4,2,5,2,2,1,0,0,1,0,
0,1,1,0,0,0,0,0,0,1
];
const histBCounts = [
0,0,0,0,1,1,0,0,0,2,2,4,8,6,14,10,12,11,13,0,
0,2,12,20,20,26,20,12,13,4,14,5,4,1,0,1,2,2,0,0,
0,1,1,1,1,1,0,0,0,0
];
const statsA = { mean: 2.78, median: 2.59, mode: 2.10 };
const statsB = { mean: 1.31, median: 1.41, mode: 1.50 };

// ---------------- STYLE / LAYOUT ----------------
const FONT = "DejaVu Sans";
const regionColors = ["#d7d7f9", "#fffdc9", "#ebd3d3", "#d3d3d3", "#c9f8c9", "#f9e2f6", "#d3d3d3", "#c8fafa", "#d3d3d3", "#d9ead9"];
const GRAY = "#a9a9a9";
const ORANGE = "#ff8c00";
const TEAL = "#389d9b";

const G = {
  a: { left: 81, top: 17, width: 971, height: 310 },
  b: { left: 81, top: 433, width: 971, height: 310 },
  ha: { left: 1109, top: 17, width: 161, height: 310 },
  hb: { left: 1109, top: 433, width: 161, height: 310 },
};

const range = (a: number, b: number, step: number) => {
  const out: number[] = [];
  const n = Math.round((b - a) / step);
  for (let i = 0; i <= n; i++) out.push(+(a + i * step).toFixed(4));
  return out;
};

const fmtTime = (h: number) => {
  const t = Math.round(9 + h);
  const day = 10 + Math.floor(t / 24);
  const hh = t % 24;
  return `${day} May\n${String(hh).padStart(2, "0")}:00`;
};
const fmtNum = (v: number) => (v < 0 ? "\u2212" + Math.abs(v) : String(v));

function axisPair(
  gridIndex: number,
  pos: "bottom" | "left",
  min: number,
  max: number,
  majors: number[],
  minors: number[],
  formatter: (v: number) => string,
  name: string,
  nameGap: number
) {
  const major: any = {
    type: "value",
    gridIndex,
    min,
    max,
    position: pos,
    offset: 0,
    axisLine: { show: false, onZero: false },
    axisTick: { show: true, customValues: majors, length: 7, lineStyle: { color: "#000", width: 1 } },
    axisLabel: {
      show: true,
      customValues: majors,
      formatter,
      fontSize: 20,
      lineHeight: 24,
      color: "#000",
      fontFamily: FONT,
      margin: 11,
    },
    splitLine: { show: false },
    name,
    nameLocation: "middle",
    nameGap,
    nameTextStyle: { fontSize: 20, color: "#000", fontFamily: FONT },
  };
  const minor: any = {
    type: "value",
    gridIndex,
    min,
    max,
    position: pos,
    offset: 0,
    axisLine: { show: false, onZero: false },
    axisTick: { show: true, customValues: minors, length: 4, lineStyle: { color: "#000", width: 0.8 } },
    axisLabel: { show: false },
    splitLine: { show: false },
  };
  return [major, minor];
}

function hatchSeries(xi: number, yi: number) {
  return {
    type: "custom",
    xAxisIndex: xi,
    yAxisIndex: yi,
    z: 2,
    silent: true,
    data: hatchStarts.map((s, i) => [s, hatchEnds[i]]),
    renderItem: (params: any, api: any) => {
      const x0 = api.coord([api.value(0), 0])[0];
      const x1 = api.coord([api.value(1), 0])[0];
      const cs = params.coordSys;
      const children: any[] = [];
      const dx = 7.4;
      const dy = 6.85;
      let row = 0;
      for (let y = cs.y + 3; y < cs.y + cs.height - 1; y += dy) {
        const off = row % 2 === 0 ? 0.8 : 0.8 + dx / 2;
        for (let x = x0 + off; x < x1 - 0.5; x += dx) {
          children.push({ type: "circle", shape: { cx: x, cy: y, r: 1.0 }, style: { fill: "#555555" } });
        }
        row++;
      }
      return { type: "group", children };
    },
  };
}

function refLines() {
  return {
    silent: true,
    symbol: ["none", "none"],
    label: { show: false },
    z: 3,
    data: [
      { yAxis: isothermal, lineStyle: { color: "#ff00ff", type: [5.5, 2.4], width: 1.5 } },
      { yAxis: adiabatic, lineStyle: { color: "#0000ff", type: [5.5, 2.4], width: 1.5 } },
    ],
  };
}

function shadeAreas() {
  return {
    silent: true,
    z: 1,
    data: regionStarts.map((s, i) => [
      { xAxis: s, itemStyle: { color: regionColors[i], opacity: 1 } },
      { xAxis: regionEnds[i] },
    ]),
  };
}

function histSeries(xi: number, yi: number, counts: number[], st: { mean: number; median: number; mode: number }) {
  const data = counts
    .map((c, i) => [histBinStart + i * histBinWidth, histBinStart + (i + 1) * histBinWidth, c])
    .filter((d) => d[2] > 0);
  return {
    type: "custom",
    xAxisIndex: xi,
    yAxisIndex: yi,
    z: 2,
    silent: true,
    encode: { x: 2, y: [0, 1] },
    data,
    renderItem: (params: any, api: any) => {
      const lo = api.value(0), hi = api.value(1), c = api.value(2);
      const p0 = api.coord([0, hi]);
      const p1 = api.coord([c, lo]);
      return {
        type: "rect",
        shape: { x: p0[0], y: p0[1], width: p1[0] - p0[0], height: p1[1] - p0[1] },
        style: { fill: TEAL, stroke: "rgba(0,0,0,0.75)", lineWidth: 0.8 },
      };
    },
    markLine: {
      silent: true,
      symbol: ["none", "none"],
      label: { show: false },
      z: 3,
      data: [
        { yAxis: st.mean, lineStyle: { color: "#ff0000", type: [5.5, 2.4], width: 1.5 } },
        { yAxis: st.median, lineStyle: { color: "#ffff00", type: [5.5, 2.4], width: 1.5 } },
        { yAxis: st.mode, lineStyle: { color: "#00ffff", type: [5.5, 2.4], width: 1.5 } },
      ],
    },
  };
}

function scatterLegend(top: number) {
  const rows = [11.5, 32.5, 52.5, 73];
  const tx = 874.5;
  const font = `14px "${FONT}"`;
  const els: any[] = [
    { type: "rect", z: 100, shape: { x: 831, y: top, width: 214, height: 86, r: 3 }, style: { fill: "rgba(255,255,255,0.8)", stroke: "#cccccc", lineWidth: 1 } },
    { type: "circle", z: 101, shape: { cx: 849.5, cy: top + rows[0], r: 3.8 }, style: { fill: GRAY } },
    { type: "circle", z: 101, shape: { cx: 849.5, cy: top + rows[1], r: 3.8 }, style: { fill: ORANGE, stroke: "#000", lineWidth: 0.9 } },
    { type: "line", z: 101, shape: { x1: 836, y1: top + rows[2], x2: 863, y2: top + rows[2] }, style: { stroke: "#ff00ff", lineWidth: 1.5, lineDash: [5.5, 2.4] } },
    { type: "line", z: 101, shape: { x1: 836, y1: top + rows[3], x2: 863, y2: top + rows[3] }, style: { stroke: "#0000ff", lineWidth: 1.5, lineDash: [5.5, 2.4] } },
  ];
  const texts = ["CC < 0.8 and p > 0.05", "CC  \u2265  0.8 and p  \u2264  0.05", "Isothermal (\u0393 = 1)", "Adiabatic (\u0393 = 1.67)"];
  texts.forEach((t, i) =>
    els.push({ type: "text", z: 101, x: tx, y: top + rows[i], style: { text: t, font, fill: "#000", align: "left", verticalAlign: "middle", textAlign: "left", textVerticalAlign: "middle" } })
  );
  return els;
}

function histLegend(top: number, st: { mean: number; median: number; mode: number }) {
  const rows = [11.3, 32, 52, 72.7];
  const font = `14px "${FONT}"`;
  const els: any[] = [
    { type: "rect", z: 100, shape: { x: 1124, y: top, width: 139, height: 85, r: 3 }, style: { fill: "rgba(255,255,255,0.8)", stroke: "#cccccc", lineWidth: 1 } },
    { type: "rect", z: 101, shape: { x: 1129, y: top + rows[0] - 5, width: 28, height: 10 }, style: { fill: TEAL, stroke: "#000", lineWidth: 0.8 } },
    { type: "line", z: 101, shape: { x1: 1129, y1: top + rows[1], x2: 1157, y2: top + rows[1] }, style: { stroke: "#ff0000", lineWidth: 1.5, lineDash: [5.5, 2.4] } },
    { type: "line", z: 101, shape: { x1: 1129, y1: top + rows[2], x2: 1157, y2: top + rows[2] }, style: { stroke: "#ffff00", lineWidth: 1.5, lineDash: [5.5, 2.4] } },
    { type: "line", z: 101, shape: { x1: 1129, y1: top + rows[3], x2: 1157, y2: top + rows[3] }, style: { stroke: "#00ffff", lineWidth: 1.5, lineDash: [5.5, 2.4] } },
  ];
  const texts = ["ICME", `Mean: ${st.mean.toFixed(2)}`, `Median: ${st.median.toFixed(2)}`, `Mode: ${st.mode.toFixed(2)}`];
  texts.forEach((t, i) =>
    els.push({ type: "text", z: 101, x: 1168, y: top + rows[i], style: { text: t, font, fill: "#000", align: "left", verticalAlign: "middle", textAlign: "left", textVerticalAlign: "middle" } })
  );
  return els;
}

function frame(g: { left: number; top: number; width: number; height: number }) {
  return { type: "rect", z: 99, shape: { x: g.left, y: g.top, width: g.width, height: g.height }, style: { fill: "none", stroke: "#000", lineWidth: 1 }, silent: true };
}

function buildOption() {
  const xHours = range(0, 40, 1);
  const [axM, axm] = axisPair(0, "bottom", X_MIN_H, X_MAX_H, majorTickHours, xHours, fmtTime, "Time in 2024 (UT)", 58);
  const [bxM, bxm] = axisPair(1, "bottom", X_MIN_H, X_MAX_H, majorTickHours, xHours, fmtTime, "Time in 2024 (UT)", 58);
  const [haxM, haxm] = axisPair(2, "bottom", 0, 28.3, [0, 25], [5, 10, 15, 20], fmtNum, "Occurrence", 34);
  const [hbxM, hbxm] = axisPair(3, "bottom", 0, 26.9, [0, 25], [5, 10, 15, 20], fmtNum, "Occurrence", 34);

  const [ayM, aym] = axisPair(0, "left", -9, 12, [-5, 0, 5, 10], range(-9, 12, 1), fmtNum, "Electron polytropic index (\u0393\u2091)", 47);
  const [byM, bym] = axisPair(1, "left", -1.5, 4, [-1, 0, 1, 2, 3, 4], range(-1.5, 4, 0.1), fmtNum, "Ion polytropic index (\u0393\u1D62)", 47);
  const [hayM, haym] = axisPair(2, "left", -1, 8, [0, 2, 4, 6, 8], range(-1, 8, 0.1), fmtNum, "", 0);
  const [hbyM, hbym] = axisPair(3, "left", -1, 4, [-1, 0, 1, 2, 3, 4], range(-1, 4, 0.1), fmtNum, "", 0);
  hayM.axisLabel.margin = 13;
  hbyM.axisLabel.margin = 13;

  return {
    animation: false,
    backgroundColor: "#ffffff",
    textStyle: { fontFamily: FONT },
    grid: [G.a, G.b, G.ha, G.hb].map((g) => ({ ...g, show: false, containLabel: false })),
    xAxis: [axM, axm, bxM, bxm, haxM, haxm, hbxM, hbxm],
    yAxis: [ayM, aym, byM, bym, hayM, haym, hbyM, hbym],
    series: [
      // Panel (a)
      hatchSeries(0, 0),
      {
        type: "scatter",
        name: "CC < 0.8 and p > 0.05 (a)",
        xAxisIndex: 0,
        yAxisIndex: 0,
        z: 2,
        symbolSize: 7.5,
        itemStyle: { color: GRAY, opacity: 1 },
        data: aGray,
        markArea: shadeAreas(),
        markLine: refLines(),
      },
      {
        type: "scatter",
        name: "CC >= 0.8 and p <= 0.05 (a)",
        xAxisIndex: 0,
        yAxisIndex: 0,
        z: 4,
        symbolSize: 7.5,
        itemStyle: { color: ORANGE, borderColor: "#000", borderWidth: 0.9, opacity: 1 },
        data: aOrange,
      },
      // Panel (b)
      hatchSeries(2, 2),
      {
        type: "scatter",
        xAxisIndex: 2,
        yAxisIndex: 2,
        z: 2,
        symbolSize: 7.5,
        itemStyle: { color: GRAY, opacity: 1 },
        data: bGray.concat(bGrayDense),
        markArea: shadeAreas(),
        markLine: refLines(),
      },
      {
        type: "scatter",
        xAxisIndex: 2,
        yAxisIndex: 2,
        z: 4,
        symbolSize: 7.5,
        itemStyle: { color: ORANGE, borderColor: "#000", borderWidth: 0.9, opacity: 1 },
        data: bOrange,
      },
      // Histograms
      histSeries(4, 4, histACounts, statsA),
      histSeries(6, 6, histBCounts, statsB),
    ],
    graphic: [
      frame(G.a),
      frame(G.b),
      frame(G.ha),
      frame(G.hb),
      ...scatterLegend(234),
      ...scatterLegend(440),
      ...histLegend(23, statsA),
      ...histLegend(439, statsB),
      { type: "text", z: 101, x: 127, y: 40, style: { text: "(a)", font: `21px "${FONT}"`, fill: "#000", align: "center", verticalAlign: "middle", textAlign: "center", textVerticalAlign: "middle" } },
      { type: "text", z: 101, x: 127, y: 454, style: { text: "(b)", font: `21px "${FONT}"`, fill: "#000", align: "center", verticalAlign: "middle", textAlign: "center", textVerticalAlign: "middle" } },
    ],
  };
}

export default function App() {
  const ref = useRef<HTMLDivElement>(null);
  useEffect(() => {
    if (!ref.current) return;
    const chart = echarts.init(ref.current, undefined, { renderer: "svg" });
    chart.setOption(buildOption() as any);
    return () => chart.dispose();
  }, []);
  return (
    <div
      ref={ref}
      style={{ position: "absolute", left: 0, top: 0, width: 1274, height: 823, background: "#fff" }}
    />
  );
}
